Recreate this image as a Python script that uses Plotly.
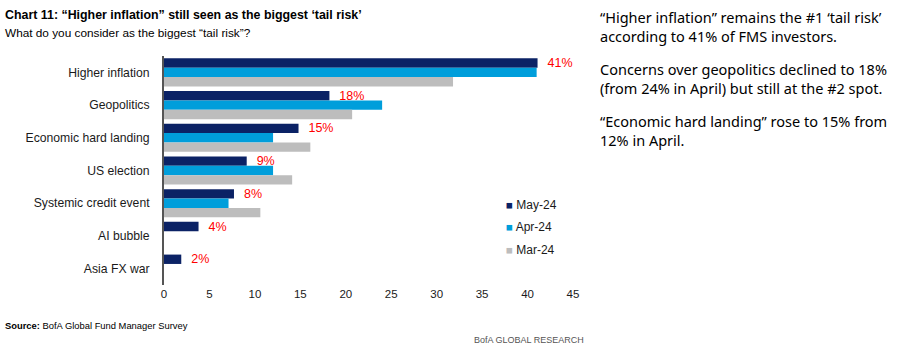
import plotly.graph_objects as go

categories = ["Higher inflation", "Geopolitics", "Economic hard landing", "US election",
              "Systemic credit event", "AI bubble", "Asia FX war"]
may_24 = [41.1, 18.2, 14.8, 9.1, 7.7, 3.8, 1.9]
apr_24 = [41.0, 24.0, 12.0, 12.0, 7.1, None, None]
mar_24 = [31.8, 20.7, 16.1, 14.1, 10.6, None, None]
may_labels = ["41%", "18%", "15%", "9%", "8%", "4%", "2%"]
series_names = ["May-24", "Apr-24", "Mar-24"]
series_colors = ["#0B2265", "#009EDB", "#BDBDBD"]
x_ticks = [0, 5, 10, 15, 20, 25, 30, 35, 40, 45]

title_text = "Chart 11: “Higher inflation” still seen as the biggest ‘tail risk’"
subtitle_text = "What do you consider as the biggest “tail risk”?"
side_paragraphs = [
    "“Higher inflation” remains the #1 ‘tail risk’<br>according to 41% of FMS investors.",
    "Concerns over geopolitics declined to 18%<br>(from 24% in April) but still at the #2 spot.",
    "“Economic hard landing” rose to 15% from<br>12% in April.",
]

W_FIG, H_FIG = 914, 351
L, R, T, B = 164, 573, 56, 285
PW, PH = R - L, B - T

def px(x):
    return (x - L) / PW

def py(y):
    return 1 - (y - T) / PH

NARROW = "Liberation Sans, Arial, sans-serif"

fig = go.Figure()
series = [may_24, apr_24, mar_24]
for i, (name, vals, col) in enumerate(zip(series_names, series, series_colors)):
    kw = {}
    if i == 0:
        kw = dict(text=["  " + s for s in may_labels], textposition="outside",
                  textfont=dict(color="#FF0000", size=12.5, family=NARROW),
                  cliponaxis=False, constraintext="none")
    fig.add_trace(go.Bar(y=categories, x=vals, orientation="h", name=name,
                         marker=dict(color=col, line=dict(width=0)),
                         showlegend=False, **kw))

fig.update_layout(
    width=W_FIG, height=H_FIG,
    margin=dict(l=L, r=W_FIG - R, t=T, b=H_FIG - B, autoexpand=False),
    barmode="group", bargap=0.14, bargroupgap=0.0,
    plot_bgcolor="white", paper_bgcolor="white",
    font=dict(family=NARROW, size=12, color="#1a1a1a"),
)
fig.update_xaxes(range=[0, 45], tickvals=x_ticks, showgrid=False, zeroline=False,
                 showline=False, ticks="", tickfont=dict(size=11.5, color="#1a1a1a"))
fig.update_yaxes(autorange="reversed", showgrid=False, zeroline=False,
                 showline=True, linecolor="#555555", linewidth=2, ticks="",
                 ticklabelstandoff=10, tickfont=dict(size=12.2, color="#1a1a1a"))

ann = []
ann.append(dict(text="<b>" + title_text + "</b>", x=px(3), y=py(15), xanchor="left",
                yanchor="middle", font=dict(size=12.4, family=NARROW, color="#000")))
ann.append(dict(text=subtitle_text, x=px(3), y=py(33), xanchor="left",
                yanchor="middle", font=dict(size=11.8, family=NARROW, color="#000")))
ann.append(dict(text="<b>Source:</b> BofA Global Fund Manager Survey", x=px(3), y=py(325),
                xanchor="left", yanchor="middle", font=dict(size=9.4, family=NARROW, color="#000")))
ann.append(dict(text="BofA GLOBAL RESEARCH", x=px(586), y=py(340),
                xanchor="right", yanchor="middle", font=dict(size=9, family=NARROW, color="#555")))
side_y = [5, 57, 109]
for ptxt, yy in zip(side_paragraphs, side_y):
    ann.append(dict(text=ptxt, x=px(598), y=py(yy), xanchor="left", yanchor="top", align="left",
                    font=dict(size=14.5, family="Noto Sans, sans-serif", color="#000")))
leg_y = [205, 227, 250]
for name, col, yy in zip(series_names, series_colors, leg_y):
    ann.append(dict(text=f"<span style='color:{col};font-size:11.5px'>■</span> {name}",
                    x=px(504), y=py(yy), xanchor="left", yanchor="middle",
                    font=dict(size=12, family=NARROW, color="#1a1a1a")))
for a in ann:
    a.update(xref="paper", yref="paper", showarrow=False)
fig.update_layout(annotations=ann)

fig.write_html("out.html")
